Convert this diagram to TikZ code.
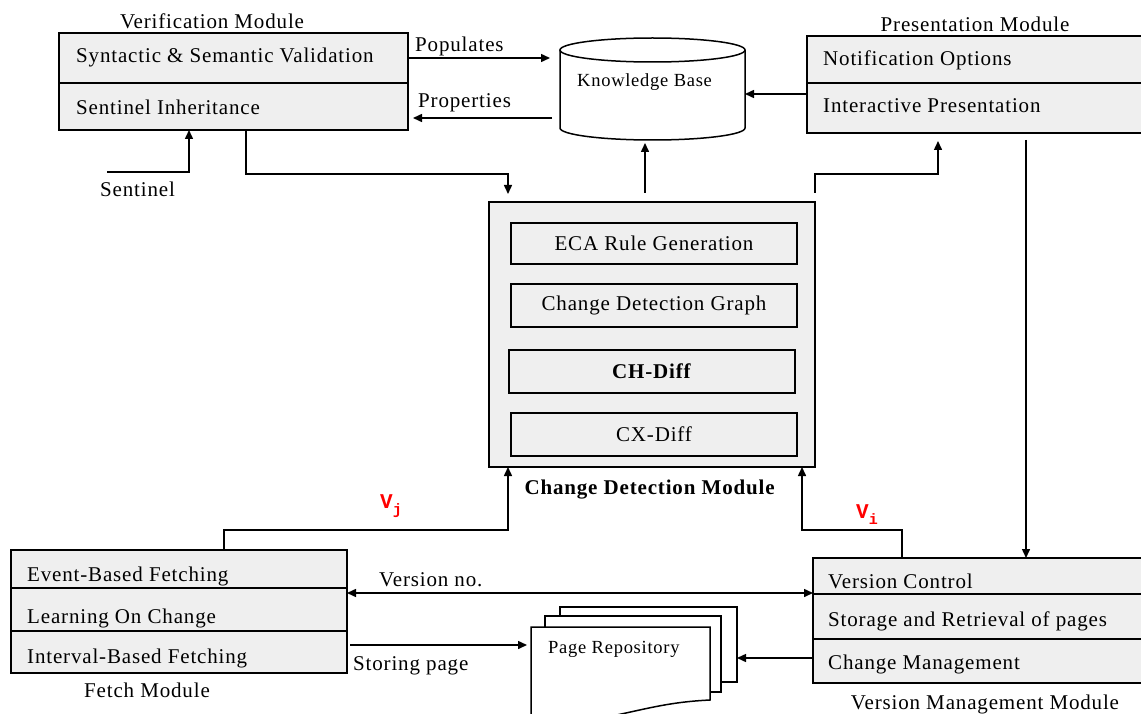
\documentclass[tikz,border=0pt]{standalone}
\usepackage{fontspec}
\setmainfont{Liberation Serif}[LetterSpace=4]
\newfontfamily\codefont{Liberation Mono}
\usetikzlibrary{arrows.meta}
\definecolor{panel}{HTML}{EFEFEF}
\tikzset{
  box/.style={draw, line width=1.5pt, fill=panel, inner sep=0pt, outer sep=0pt, anchor=north west},
  sub/.style={box, font=\fontsize{21}{24}\selectfont},
  lbl/.style={anchor=base west, inner sep=0pt, font=\fontsize{21}{24}\selectfont},
  ctr/.style={anchor=base, inner sep=0pt, font=\fontsize{21}{24}\selectfont},
  small/.style={anchor=base west, inner sep=0pt, font=\fontsize{18.5}{22}\selectfont},
  conn/.style={line width=1.5pt},
  arr/.style={conn, -{Triangle[length=9pt,width=8pt]}},
  both/.style={conn, {Triangle[length=9pt,width=8pt]}-{Triangle[length=9pt,width=8pt]}},
  ver/.style={anchor=base west, inner sep=0pt, text=red, font=\codefont\bfseries\fontsize{21}{24}\selectfont},
  sheet/.style={conn, fill=white},
}
\newcommand{\subidx}[1]{\raisebox{-6pt}{\fontsize{15}{15}\selectfont #1}}
\begin{document}
\begin{tikzpicture}[x=1pt,y=-1pt]
\clip (0,0) rectangle (1141,714);
\fill[white] (0,0) rectangle (1141,714);

% ---- Verification Module ----
\node[box, minimum width=349pt, minimum height=97pt] (vm) at (59,33) {};
\draw[conn] (vm.west |- 0,83) -- (vm.east |- 0,83);
\node[lbl] (vm1) at (76,63) {Syntactic \& Semantic Validation};
\node[lbl] (vm2) at (76,115) {Sentinel Inheritance};
\node[ctr] (vmt) at (212,29) {Verification Module};

% ---- Knowledge Base (cylinder) ----
\draw[sheet] (560,50) -- (560,128) arc[start angle=180, end angle=360, x radius=92.5pt, y radius=12pt] -- (745,50);
\draw[conn, fill=white] (652.5,50) ellipse[x radius=92.5pt, y radius=12pt];
\node[inner sep=0pt, outer sep=0pt, minimum width=185pt, minimum height=102pt, anchor=north west] (kb) at (560,38) {};
\node[small] (kbt) at (577,87) {Knowledge Base};

% ---- Presentation Module ----
\node[box, minimum width=345pt, minimum height=97pt] (pm) at (807,36) {};
\draw[conn] (pm.west |- 0,83) -- (pm.east |- 0,83);
\node[lbl] (pm1) at (823,66) {Notification Options};
\node[lbl] (pm2) at (823,113) {Interactive Presentation};
\node[ctr] (pmt) at (975,32) {Presentation Module};

% ---- Change Detection Module ----
\node[box, minimum width=326pt, minimum height=265pt] (cdm) at (489,202) {};
\node[sub, minimum width=286pt, minimum height=41pt] (eca) at (511,223) {ECA Rule Generation};
\node[sub, minimum width=286pt, minimum height=43pt] (cdg) at (511,284) {Change Detection Graph};
\node[sub, minimum width=286pt, minimum height=43pt] (chd) at (509,350) {\textbf{CH-Diff}};
\node[sub, minimum width=286pt, minimum height=43pt] (cxd) at (511,413) {CX-Diff};
\node[ctr] (cdmt) at (650,494) {\textbf{Change Detection Module}};

% ---- Fetch Module ----
\node[box, minimum width=336pt, minimum height=123pt] (fm) at (11,550) {};
\draw[conn] (fm.west |- 0,588) -- (fm.east |- 0,588);
\draw[conn] (fm.west |- 0,631) -- (fm.east |- 0,631);
\node[lbl] (fm1) at (27,581) {Event-Based Fetching};
\node[lbl] (fm2) at (27,623) {Learning On Change};
\node[lbl] (fm3) at (27,663) {Interval-Based Fetching};
\node[ctr] (fmt) at (147,697) {Fetch Module};

% ---- Version Management Module ----
\node[box, minimum width=340pt, minimum height=125pt] (vmm) at (813,558) {};
\draw[conn] (vmm.west |- 0,594) -- (vmm.east |- 0,594);
\draw[conn] (vmm.west |- 0,639) -- (vmm.east |- 0,639);
\node[lbl] (vmm1) at (828,588) {Version Control};
\node[lbl] (vmm2) at (828,626) {Storage and Retrieval of pages};
\node[lbl] (vmm3) at (828,669) {Change Management};
\node[ctr] (vmmt) at (985,709) {Version Management Module};

% ---- Page Repository (stack of sheets) ----
\draw[sheet] (560,607) rectangle (737,682);
\draw[sheet] (545,616) rectangle (721,692);
\draw[sheet] (531,627) -- (710,627) -- (710,700)
  .. controls (670,702) and (650,708) .. (612,716) -- (531,716) -- cycle;
\node[inner sep=0pt, outer sep=0pt, minimum width=206pt, minimum height=107pt, anchor=north west] (repo) at (531,607) {};
\node[small] (repot) at (548,653) {Page Repository};

% ---- Connectors ----
\coordinate (sen) at (107,172);
\draw[arr] (sen) -| (vm.south -| 189,0);
\node[lbl] (sent) at (100,197) {Sentinel};

\draw[arr, shorten >=10pt] (vm.east |- 0,58) -- (kb.west |- 0,58);
\node[lbl] (popl) at (415,52) {Populates};
\draw[arr, shorten <=8pt, shorten >=5pt] (kb.west |- 0,118) -- (vm.east |- 0,118);
\node[lbl] (propl) at (418,108) {Properties};

\draw[arr] (pm.west |- 0,94) -- (kb.east |- 0,94);
\draw[arr, shorten <=9pt, shorten >=3pt] (cdm.north -| 645,0) -- (kb.south -| 645,0);
\draw[arr, shorten >=8pt] (vm.south -| 246,0) |- (508,174) -- (cdm.north -| 508,0);
\draw[arr, shorten <=9pt, shorten >=8pt] (cdm.north east) |- (938,174) -- (pm.south -| 938,0);
\draw[arr, shorten <=7pt] (pm.south -| 1026,0) -- (vmm.north -| 1026,0);

\draw[arr] (fm.north -| 224,0) |- (508,530) -- (cdm.south -| 508,0);
\node[ver] (vj) at (380,508) {V\subidx{j}};
\draw[arr] (vmm.north -| 902,0) |- (802,530) -- (cdm.south -| 802,0);
\node[ver] (vi) at (856,518) {V\subidx{i}};

\draw[both] (fm.east |- 0,593) -- (vmm.west |- 0,593);
\node[lbl] (vnol) at (379,586) {Version no.};
\draw[arr, shorten <=3pt, shorten >=4pt] (fm.east |- 0,645) -- (repo.west |- 0,645);
\node[lbl] (storl) at (353,670) {Storing page};
\draw[arr] (vmm.west |- 0,658) -- (repo.east |- 0,658);
\end{tikzpicture}
\end{document}
